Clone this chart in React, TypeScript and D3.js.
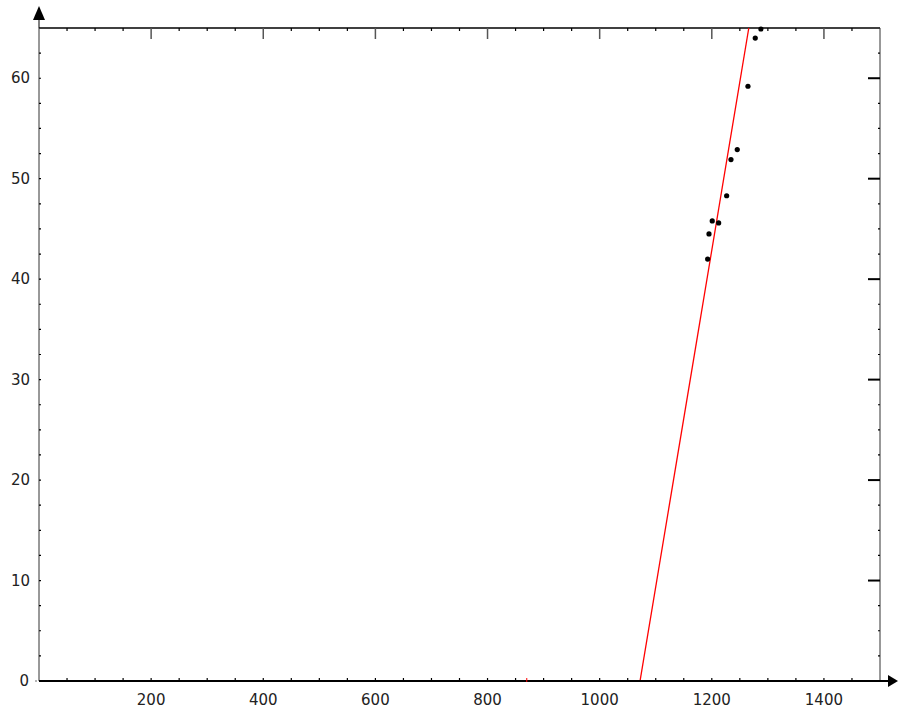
import React from "react";
import * as d3 from "d3";

const pointsX = [1192.6, 1195, 1200.8, 1212.2, 1226.5, 1234.2, 1245.4, 1264.5, 1277.5, 1287.6];
const pointsY = [42.0, 44.5, 45.8, 45.6, 48.3, 51.9, 52.9, 59.2, 64.0, 64.9];
const fitX = [1072, 1266];
const fitY = [0, 65];
const xTickLabels = [200, 400, 600, 800, 1000, 1200, 1400];
const yTickLabels = [0, 10, 20, 30, 40, 50, 60];
const redMarkX = 870;

const W = 898;
const H = 712;
const L = 39, R = 880, T = 28, B = 681;

export default function App() {
  const x = d3.scaleLinear().domain([0, 1500]).range([L, R]);
  const y = d3.scaleLinear().domain([0, 65]).range([B, T]);
  const xMinor = d3.range(50, 1500, 50);
  const yMinor = d3.range(2.5, 65, 2.5);
  const line = d3.line<number>().x((_, i) => x(fitX[i])).y((_, i) => y(fitY[i]));
  const font = "'DejaVu Sans', sans-serif";
  return (
    <svg width={W} height={H} style={{ position: "absolute", left: 0, top: 0, background: "#fff" }}>
      <defs>
        <clipPath id="plot">
          <rect x={L} y={T} width={R - L} height={B - T} />
        </clipPath>
      </defs>
      {/* frame */}
      <line x1={L} x2={R} y1={T} y2={T} stroke="#000" strokeWidth={1.5} />
      <line x1={R} x2={R} y1={T} y2={B} stroke="#333" strokeWidth={1} />
      <line x1={L} x2={L} y1={T} y2={B} stroke="#333" strokeWidth={1} />
      {/* top ticks */}
      {xMinor.map((v) => (
        <line key={"tt" + v} x1={x(v)} x2={x(v)} y1={T} y2={T + (v % 200 === 0 ? 11 : 3)}
          stroke={v % 200 === 0 ? "#555" : "#000"} strokeWidth={v % 200 === 0 ? 1.5 : 1.2} />
      ))}
      {/* bottom ticks */}
      {xMinor.map((v) => (
        <line key={"bt" + v} x1={x(v)} x2={x(v)} y1={B} y2={B - 3} stroke="#000" strokeWidth={1.2} />
      ))}
      {/* left ticks */}
      {yMinor.map((v) => (
        <line key={"lt" + v} x1={L} x2={L + 2} y1={y(v)} y2={y(v)} stroke="#000" strokeWidth={1.2} />
      ))}
      {/* right ticks */}
      {yMinor.map((v) => (
        <line key={"rt" + v} x1={R} x2={R - (v % 10 === 0 ? 12 : 2)} y1={y(v)} y2={y(v)}
          stroke="#000" strokeWidth={v % 10 === 0 ? 2 : 1.2} />
      ))}
      {/* fit line */}
      <path d={line(fitX) || ""} fill="none" stroke="#ff0000" strokeWidth={1.3} clipPath="url(#plot)" />
      {/* points */}
      {pointsX.map((v, i) => (
        <circle key={"p" + i} cx={x(v)} cy={y(pointsY[i])} r={2.6} fill="#000" />
      ))}
      {/* bottom axis */}
      <line x1={L} x2={890} y1={B} y2={B} stroke="#000" strokeWidth={2} />
      <line x1={x(redMarkX)} x2={x(redMarkX)} y1={B - 3} y2={B + 1} stroke="#ff0000" strokeWidth={1} />
      <path d={`M898,${B} L888,${B - 6} L888,${B + 6} Z`} fill="#000" />
      {/* y arrow */}
      <line x1={L} x2={L} y1={T} y2={18} stroke="#000" strokeWidth={1} />
      <path d={`M${L},6 L${L - 6},20 L${L + 6},20 Z`} fill="#000" />
      <circle cx={L - 3} cy={B} r={0.8} fill="#555" />
      {/* labels */}
      {xTickLabels.map((v) => (
        <text key={"xl" + v} x={x(v)} y={700} textAnchor="middle" dominantBaseline="central"
          fontFamily={font} fontSize={15} fill="#222">{v}</text>
      ))}
      {yTickLabels.map((v) => (
        <text key={"yl" + v} x={v === 0 ? 29 : 30} y={y(v)} textAnchor="end" dominantBaseline="central"
          fontFamily={font} fontSize={15} fill="#222">{v}</text>
      ))}
    </svg>
  );
}
